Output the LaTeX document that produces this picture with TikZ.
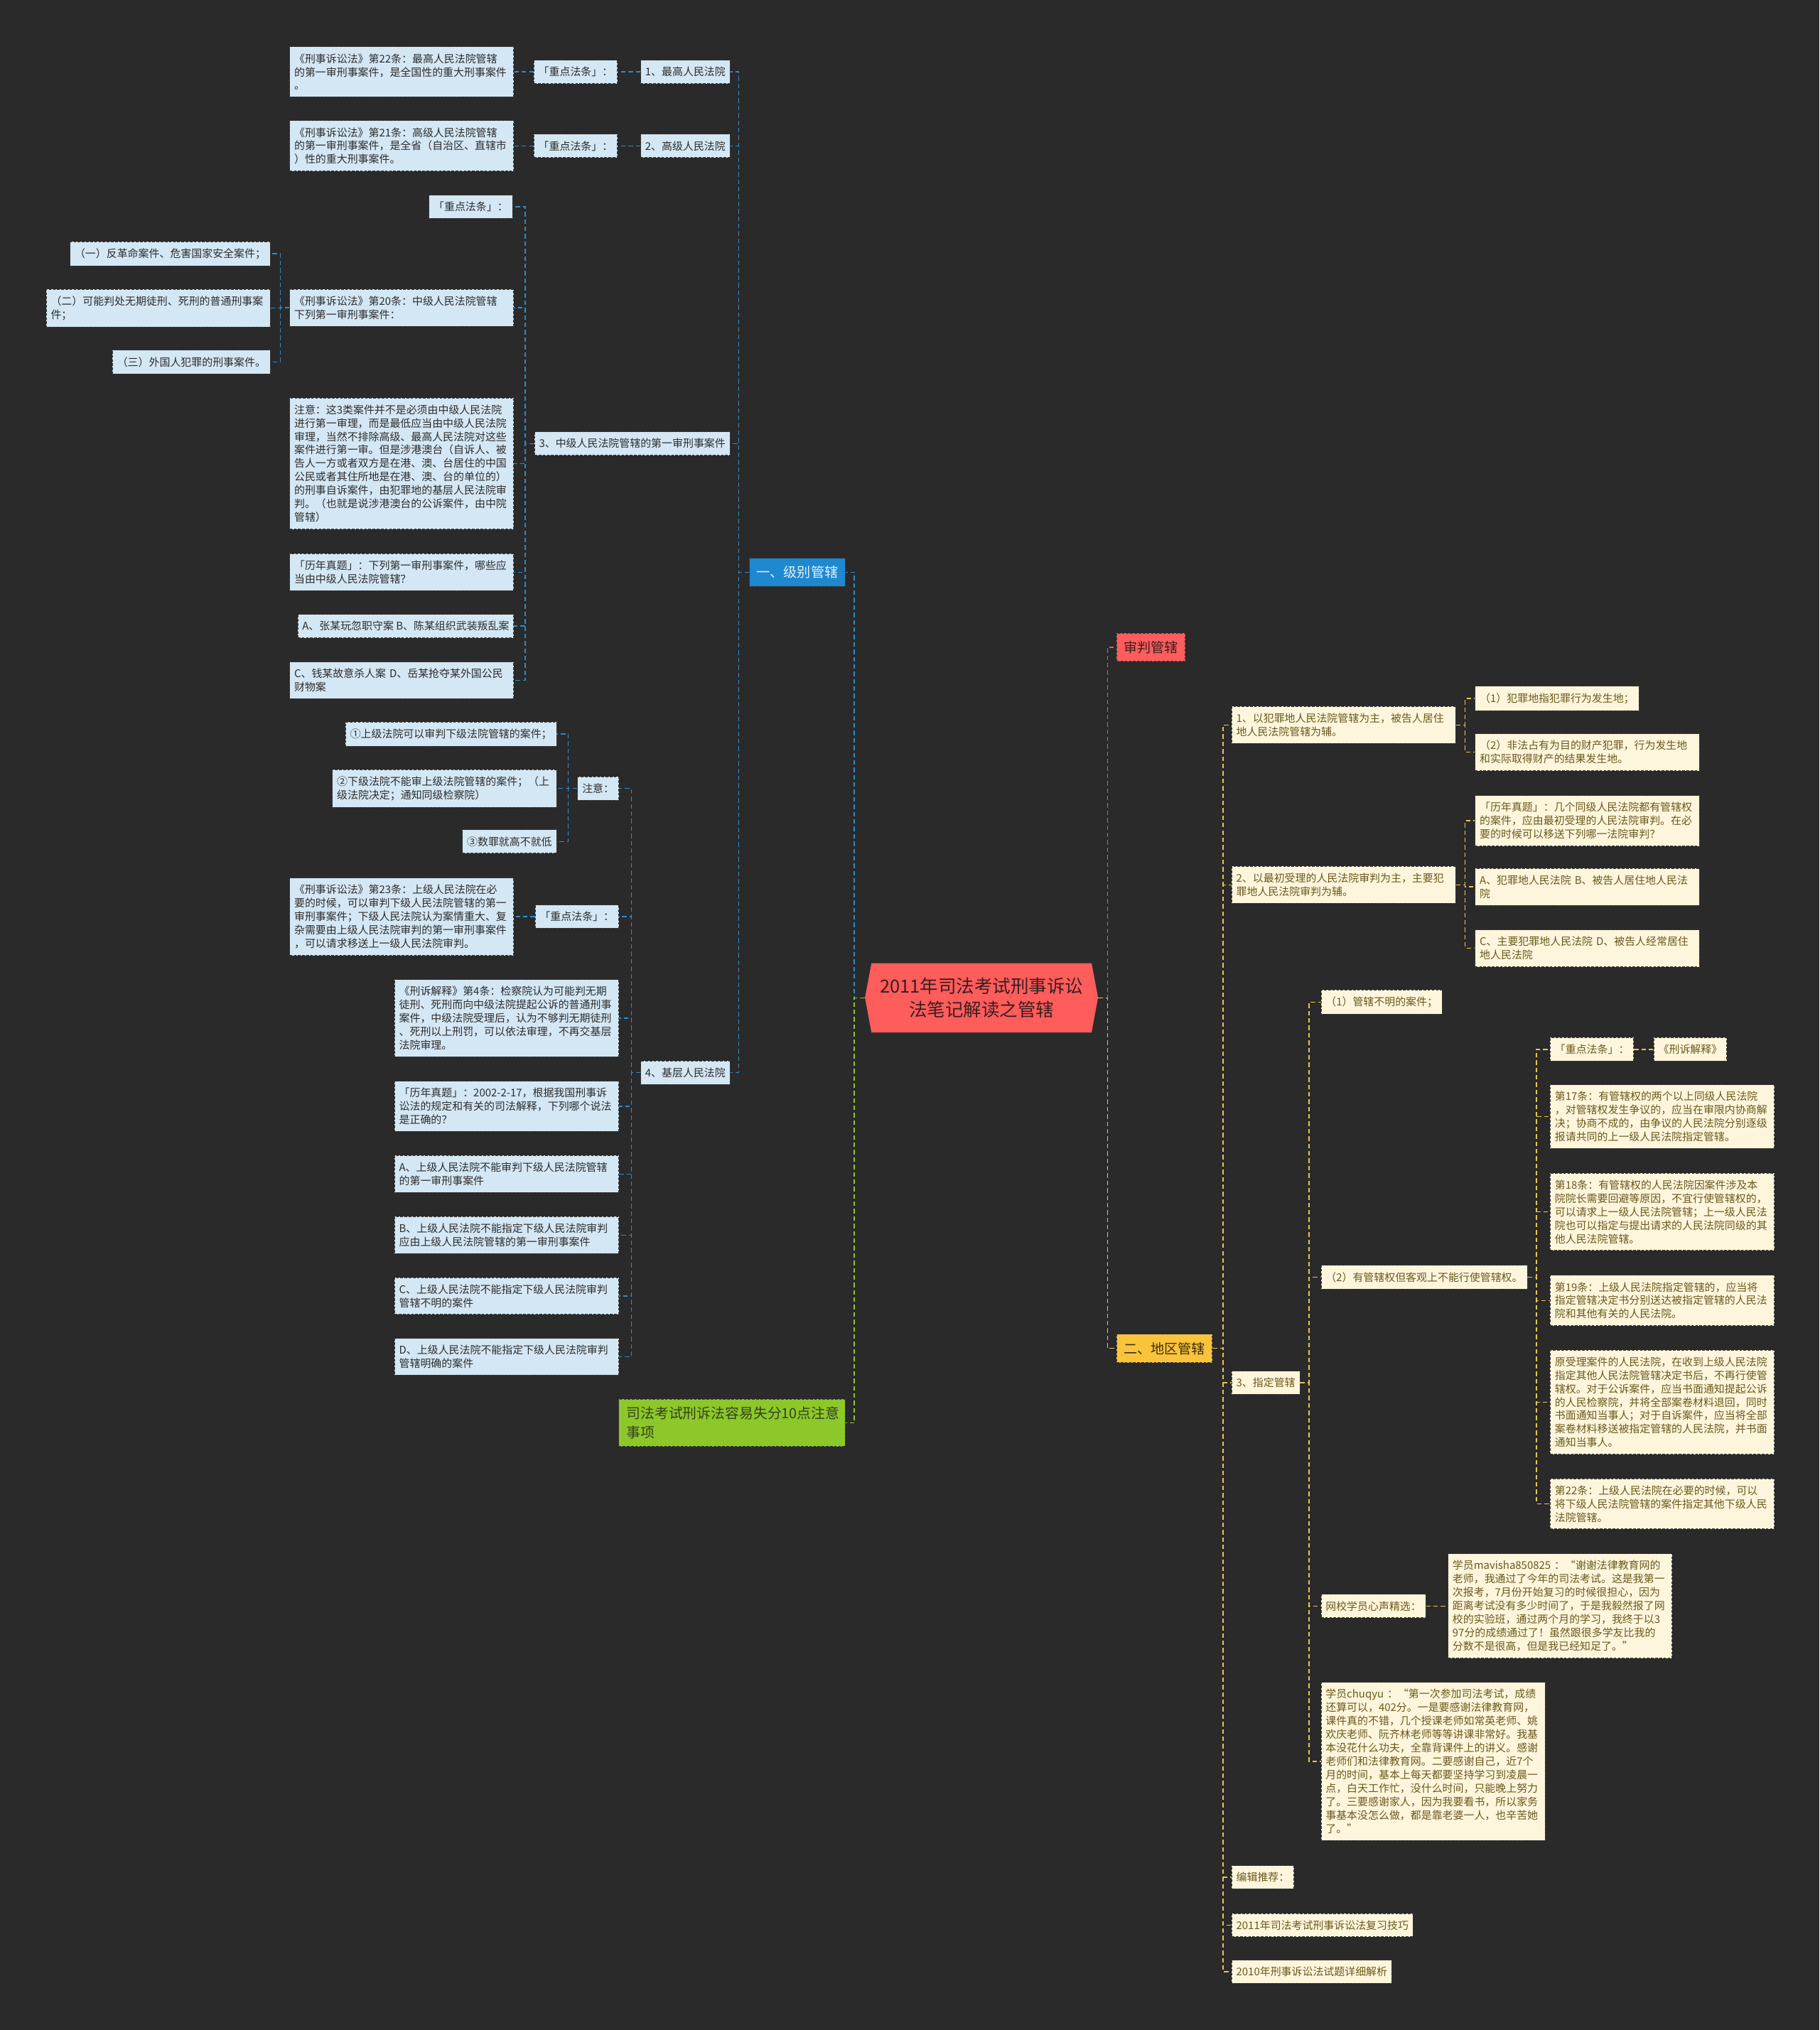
\documentclass[tikz,border=0pt]{standalone}
\usepackage{fontspec}
\setmainfont{Noto Sans CJK SC}

\definecolor{bgdark}{RGB}{42,42,42}
\definecolor{edgegray}{RGB}{58,58,58}
\definecolor{rootred}{RGB}{255,92,92}
\definecolor{roottext}{RGB}{58,30,30}
\definecolor{lvlblue}{RGB}{30,136,208}
\definecolor{lvltext}{RGB}{228,240,250}
\definecolor{blueleaf}{RGB}{212,231,244}
\definecolor{bluetext}{RGB}{45,45,45}
\definecolor{blueline}{RGB}{42,140,205}
\definecolor{trialred}{RGB}{255,92,92}
\definecolor{redtext}{RGB}{60,30,30}
\definecolor{redline}{RGB}{236,92,96}
\definecolor{areagold}{RGB}{249,195,60}
\definecolor{goldtext}{RGB}{60,45,15}
\definecolor{yellowleaf}{RGB}{253,246,220}
\definecolor{yellowtext}{RGB}{108,88,30}
\definecolor{yellowline}{RGB}{236,196,82}
\definecolor{grassgreen}{RGB}{140,200,42}
\definecolor{greentext}{RGB}{52,66,28}

\begin{document}
\begin{tikzpicture}[x=1pt, y=-1pt,
    leaf/.style={draw=edgegray, dash pattern=on 2pt off 1.2pt, line width=0.5pt, inner xsep=3.5pt, inner ysep=5.2pt, align=left, font=\fontsize{8.2}{10.4}\selectfont},
    bleaf/.style={leaf, fill=blueleaf, text=bluetext},
    yleaf/.style={leaf, fill=yellowleaf, text=yellowtext},
    longbox/.style={text width=166pt},
    topic/.style={draw=edgegray, dash pattern=on 2pt off 1.2pt, line width=0.5pt, inner xsep=5.5pt, inner ysep=6pt, font=\fontsize{10.5}{13}\selectfont},
    conn/.style={dash pattern=on 3.5pt off 2.2pt, line width=0.8pt},
    bline/.style={conn, draw=blueline},
    rline/.style={conn, draw=redline},
    yline/.style={conn, draw=yellowline},
    gline/.style={conn, draw=grassgreen}
]
\useasboundingbox (0,0) rectangle (1405,1568);
\fill[bgdark] (0,0) rectangle (1405,1568);

% centre
\fill[rootred] (668,770.5) -- (673,744) -- (843,744) -- (848,770.5) -- (843,797.5) -- (673,797.5) -- cycle;
\node[minimum width=180pt, minimum height=53pt, inner sep=0pt, align=center, text=roottext, font=\fontsize{14}{18}\selectfont] (root) at (758,770.8) {2011年司法考试刑事诉讼\\法笔记解读之管辖};

% level branch
\node[topic, fill=lvlblue, text=lvltext, anchor=east] (lvl) at (653,442) {一、级别管辖};
\node[bleaf, anchor=east] (c1) at (564,55.5) {1、最高人民法院};
\node[bleaf, anchor=east] (c1k) at (477,55.5) {「重点法条」：};
\node[bleaf, longbox, anchor=east] (c1t) at (397,55.5) {《刑事诉讼法》第22条：最高人民法院管辖\\的第一审刑事案件，是全国性的重大刑事案件\\。};
\node[bleaf, anchor=east] (c2) at (564,112.7) {2、高级人民法院};
\node[bleaf, anchor=east] (c2k) at (477,112.7) {「重点法条」：};
\node[bleaf, longbox, anchor=east] (c2t) at (397,112.7) {《刑事诉讼法》第21条：高级人民法院管辖\\的第一审刑事案件，是全省（自治区、直辖市\\）性的重大刑事案件。};
\node[bleaf, anchor=east] (c3) at (564,342.6) {3、中级人民法院管辖的第一审刑事案件};
\node[bleaf, anchor=east] (c3k) at (396,159.7) {「重点法条」：};
\node[bleaf, longbox, anchor=east] (c3a) at (397,237.7) {《刑事诉讼法》第20条：中级人民法院管辖\\下列第一审刑事案件：};
\node[bleaf, anchor=east] (c3a1) at (209,196) {（一）反革命案件、危害国家安全案件；};
\node[bleaf, longbox, anchor=east] (c3a2) at (209,238) {（二）可能判处无期徒刑、死刑的普通刑事案\\件；};
\node[bleaf, anchor=east] (c3a3) at (209,279.6) {（三）外国人犯罪的刑事案件。};
\node[bleaf, longbox, anchor=east] (c3n) at (397,358) {注意：这3类案件并不是必须由中级人民法院\\进行第一审理，而是最低应当由中级人民法院\\审理，当然不排除高级、最高人民法院对这些\\案件进行第一审。但是涉港澳台（自诉人、被\\告人一方或者双方是在港、澳、台居住的中国\\公民或者其住所地是在港、澳、台的单位的）\\的刑事自诉案件，由犯罪地的基层人民法院审\\判。（也就是说涉港澳台的公诉案件，由中院\\管辖）};
\node[bleaf, longbox, anchor=east] (c3q) at (397,442) {「历年真题」：下列第一审刑事案件，哪些应\\当由中级人民法院管辖？};
\node[bleaf, anchor=east] (c3ab) at (397,483.6) {A、张某玩忽职守案 B、陈某组织武装叛乱案};
\node[bleaf, longbox, anchor=east] (c3cd) at (397,525.5) {C、钱某故意杀人案~D、岳某抢夺某外国公民\\财物案};
\node[bleaf, anchor=east] (c4) at (564,828.5) {4、基层人民法院};
\node[bleaf, anchor=east] (c4n) at (478,609) {注意：};
\node[bleaf, anchor=east] (c4n1) at (430,567) {①上级法院可以审判下级法院管辖的案件；};
\node[bleaf, longbox, anchor=east] (c4n2) at (430,609) {②下级法院不能审上级法院管辖的案件；（上\\级法院决定；通知同级检察院）};
\node[bleaf, anchor=east] (c4n3) at (430,650) {③数罪就高不就低};
\node[bleaf, anchor=east] (c4k) at (478,708) {「重点法条」：};
\node[bleaf, longbox, anchor=east] (c4kt) at (397,708) {《刑事诉讼法》第23条：上级人民法院在必\\要的时候，可以审判下级人民法院管辖的第一\\审刑事案件；下级人民法院认为案情重大、复\\杂需要由上级人民法院审判的第一审刑事案件\\，可以请求移送上一级人民法院审判。};
\node[bleaf, longbox, anchor=east] (c4t) at (478,786.5) {《刑诉解释》第4条：检察院认为可能判无期\\徒刑、死刑而向中级法院提起公诉的普通刑事\\案件，中级法院受理后，认为不够判无期徒刑\\、死刑以上刑罚，可以依法审理，不再交基层\\法院审理。};
\node[bleaf, longbox, anchor=east] (c4q) at (478,854.5) {「历年真题」：2002-2-17，根据我国刑事诉\\讼法的规定和有关的司法解释，下列哪个说法\\是正确的？};
\node[bleaf, longbox, anchor=east] (c4a) at (478,906.8) {A、上级人民法院不能审判下级人民法院管辖\\的第一审刑事案件};
\node[bleaf, longbox, anchor=east] (c4b) at (478,954) {B、上级人民法院不能指定下级人民法院审判\\应由上级人民法院管辖的第一审刑事案件};
\node[bleaf, longbox, anchor=east] (c4c) at (478,1001) {C、上级人民法院不能指定下级人民法院审判\\管辖不明的案件};
\node[bleaf, longbox, anchor=east] (c4d) at (478,1048) {D、上级人民法院不能指定下级人民法院审判\\管辖明确的案件};

% green branch
\node[topic, fill=grassgreen, text=greentext, text width=163pt, inner xsep=6pt, align=left, font=\fontsize{10.9}{14.5}\selectfont, anchor=east] (grn) at (653,1099) {司法考试刑诉法容易失分10点注意\\事项};

% trial branch
\node[topic, fill=trialred, text=redtext, anchor=west] (trial) at (862,500) {审判管辖};

% area branch
\node[topic, fill=areagold, text=goldtext, anchor=west] (area) at (862,1041.5) {二、地区管辖};
\node[yleaf, longbox, anchor=west] (y1) at (951,560) {1、以犯罪地人民法院管辖为主，被告人居住\\地人民法院管辖为辅。};
\node[yleaf, anchor=west] (y1a) at (1139,539.5) {（1）犯罪地指犯罪行为发生地；};
\node[yleaf, longbox, anchor=west] (y1b) at (1139,581) {（2）非法占有为目的财产犯罪，行为发生地\\和实际取得财产的结果发生地。};
\node[yleaf, longbox, anchor=west] (y2) at (951,683.5) {2、以最初受理的人民法院审判为主，主要犯\\罪地人民法院审判为辅。};
\node[yleaf, longbox, anchor=west] (y2q) at (1139,634) {「历年真题」：几个同级人民法院都有管辖权\\的案件，应由最初受理的人民法院审判。在必\\要的时候可以移送下列哪一法院审判？};
\node[yleaf, longbox, anchor=west] (y2ab) at (1139,685) {A、犯罪地人民法院~B、被告人居住地人民法\\院};
\node[yleaf, longbox, anchor=west] (y2cd) at (1139,732.5) {C、主要犯罪地人民法院~D、被告人经常居住\\地人民法院};
\node[yleaf, anchor=west] (y3) at (951,1068) {3、指定管辖};
\node[yleaf, anchor=west] (y3a) at (1020,774) {（1）管辖不明的案件；};
\node[yleaf, anchor=west] (y3b) at (1020,986.5) {（2）有管辖权但客观上不能行使管辖权。};
\node[yleaf, anchor=west] (k) at (1197,810.5) {「重点法条」：};
\node[yleaf, anchor=west] (kk) at (1277,810.5) {《刑诉解释》};
\node[yleaf, longbox, anchor=west] (t17) at (1197,862.5) {第17条：有管辖权的两个以上同级人民法院\\，对管辖权发生争议的，应当在审限内协商解\\决；协商不成的，由争议的人民法院分别逐级\\报请共同的上一级人民法院指定管辖。};
\node[yleaf, longbox, anchor=west] (t18) at (1197,936) {第18条：有管辖权的人民法院因案件涉及本\\院院长需要回避等原因，不宜行使管辖权的，\\可以请求上一级人民法院管辖；上一级人民法\\院也可以指定与提出请求的人民法院同级的其\\他人民法院管辖。};
\node[yleaf, longbox, anchor=west] (t19) at (1197,1004.5) {第19条：上级人民法院指定管辖的，应当将\\指定管辖决定书分别送达被指定管辖的人民法\\院和其他有关的人民法院。};
\node[yleaf, longbox, anchor=west] (tyuan) at (1197,1083) {原受理案件的人民法院，在收到上级人民法院\\指定其他人民法院管辖决定书后，不再行使管\\辖权。对于公诉案件，应当书面通知提起公诉\\的人民检察院，并将全部案卷材料退回，同时\\书面通知当事人；对于自诉案件，应当将全部\\案卷材料移送被指定管辖的人民法院，并书面\\通知当事人。};
\node[yleaf, longbox, anchor=west] (t22) at (1197,1161.5) {第22条：上级人民法院在必要的时候，可以\\将下级人民法院管辖的案件指定其他下级人民\\法院管辖。};
\node[yleaf, anchor=west] (y3c) at (1020,1240.5) {网校学员心声精选：};
\node[yleaf, longbox, anchor=west] (mav) at (1118,1240.5) {学员mavisha850825~：“谢谢法律教育网的\\老师，我通过了今年的司法考试。这是我第一\\次报考，7月份开始复习的时候很担心，因为\\距离考试没有多少时间了，于是我毅然报了网\\校的实验班，通过两个月的学习，我终于以3\\97分的成绩通过了！虽然跟很多学友比我的\\分数不是很高，但是我已经知足了。”};
\node[yleaf, longbox, anchor=west] (y3d) at (1020,1360.5) {学员chuqyu~：“第一次参加司法考试，成绩\\还算可以，402分。一是要感谢法律教育网，\\课件真的不错，几个授课老师如常英老师、姚\\欢庆老师、阮齐林老师等等讲课非常好。我基\\本没花什么功夫，全靠背课件上的讲义。感谢\\老师们和法律教育网。二要感谢自己，近7个\\月的时间，基本上每天都要坚持学习到凌晨一\\点，白天工作忙，没什么时间，只能晚上努力\\了。三要感谢家人，因为我要看书，所以家务\\事基本没怎么做，都是靠老婆一人，也辛苦她\\了。”};
\node[yleaf, anchor=west] (yed) at (951,1450) {编辑推荐：};
\node[yleaf, anchor=west] (yr1) at (951,1487) {2011年司法考试刑事诉讼法复习技巧};
\node[yleaf, anchor=west] (yr2) at (951,1523) {2010年刑事诉讼法试题详细解析};

% connectors, left
\draw[bline] (root.west) -- ++(-8,0) |- (lvl.east);
\draw[gline] (root.west) -- ++(-8,0) |- (grn.east);
\foreach \c in {c1,c2,c3,c4}
    \draw[bline] (lvl.west) -- ++(-8,0) |- (\c.east);
\draw[bline] (c1.west) -- (c1k.east);
\draw[bline] (c1k.west) -- (c1t.east);
\draw[bline] (c2.west) -- (c2k.east);
\draw[bline] (c2k.west) -- (c2t.east);
\foreach \c in {c3k,c3a,c3n,c3q,c3ab,c3cd}
    \draw[bline] (c3.west) -- ++(-7,0) |- (\c.east);
\foreach \c in {c3a1,c3a2,c3a3}
    \draw[bline] (c3a.west) -- ++(-7,0) |- (\c.east);
\foreach \c in {c4n,c4k,c4t,c4q,c4a,c4b,c4c,c4d}
    \draw[bline] (c4.west) -- ++(-7,0) |- (\c.east);
\foreach \c in {c4n1,c4n2,c4n3}
    \draw[bline] (c4n.west) -- ++(-7,0) |- (\c.east);
\draw[bline] (c4k.west) -- (c4kt.east);

% connectors, right
\draw[rline] (root.east) -- ++(7,0) |- (trial.west);
\draw[yline] (root.east) -- ++(7,0) |- (area.west);
\foreach \c in {y1,y2,y3,yed,yr1,yr2}
    \draw[yline] (area.east) -- ++(8,0) |- (\c.west);
\foreach \c in {y1a,y1b}
    \draw[yline] (y1.east) -- ++(7,0) |- (\c.west);
\foreach \c in {y2q,y2ab,y2cd}
    \draw[yline] (y2.east) -- ++(7,0) |- (\c.west);
\foreach \c in {y3a,y3b,y3c,y3d}
    \draw[yline] (y3.east) -- ++(7,0) |- (\c.west);
\foreach \c in {k,t17,t18,t19,tyuan,t22}
    \draw[yline] (y3b.east) -- ++(7,0) |- (\c.west);
\draw[yline] (k.east) -- (kk.west);
\draw[yline] (y3c.east) -- (mav.west);
\end{tikzpicture}
\end{document}
